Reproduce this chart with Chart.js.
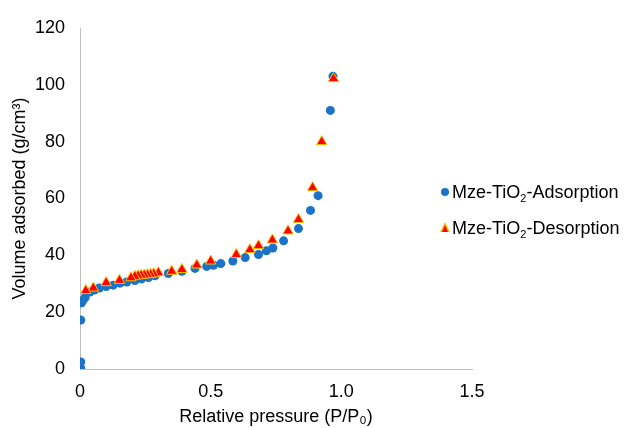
<!DOCTYPE html>
<html>
<head>
<meta charset="utf-8">
<script src="https://cdn.jsdelivr.net/npm/chart.js@4.4.1/dist/chart.umd.min.js"></script>
<style>
  html, body { margin: 0; padding: 0; background: #fff; }
  #wrap { position: relative; width: 627px; height: 428px; }
  #legend { position: absolute; left: 438px; top: 178px; font-family: "Liberation Sans", Arial, sans-serif; font-size: 18px; color: #000; }
  .item { position: relative; height: 36px; line-height: 28px; white-space: nowrap; padding-left: 14px; }
  .item sub { font-size: 11px; vertical-align: -4px; line-height: 0; }
  .dot { position: absolute; left: 3px; top: 10px; width: 8px; height: 8px; border-radius: 50%; background: #1a73c8; }
  .tri { position: absolute; left: 2px; top: 8px; width: 0; height: 0; border-left: 5px solid transparent; border-right: 5px solid transparent; border-bottom: 10px solid #ffc000; }
  .tri::after { content: ""; position: absolute; left: -3.5px; top: 2.5px; border-left: 3.5px solid transparent; border-right: 3.5px solid transparent; border-bottom: 7px solid #ff0000; }
</style>
</head>
<body>
<div id="wrap">
  <canvas id="chart" width="627" height="428"></canvas>
  <div id="legend">
    <div class="item"><span class="dot"></span>Mze-TiO<sub>2</sub>-Adsorption</div>
    <div class="item"><span class="tri"></span>Mze-TiO<sub>2</sub>-Desorption</div>
  </div>
</div>
<script>
"use strict";

// relative pressure P/P0 and volume adsorbed
const adsX = [0.003, 0.003, 0.003, 0.006, 0.012, 0.02, 0.038, 0.055, 0.074, 0.1, 0.127, 0.153, 0.179,
              0.21, 0.236, 0.262, 0.287, 0.338, 0.39, 0.44, 0.485, 0.511, 0.539, 0.585, 0.632, 0.683,
              0.713, 0.738, 0.779, 0.836, 0.882, 0.911, 0.958, 0.968];
const adsY = [0.2, 2.5, 17.2, 23.3, 24.3, 25.2, 27.1, 27.8, 28.5, 29.0, 29.5, 30.2, 30.6,
              31.1, 31.7, 32.2, 32.8, 33.6, 34.4, 35.4, 36.1, 36.5, 37.1, 38.0, 39.2, 40.3,
              41.6, 42.6, 45.1, 49.4, 55.8, 61.0, 91.0, 103.0];

const desX = [0.97, 0.925, 0.89, 0.836, 0.796, 0.736, 0.683, 0.65, 0.598, 0.5, 0.447, 0.39, 0.351,
              0.3, 0.282, 0.27, 0.258, 0.246, 0.234, 0.222, 0.21, 0.195, 0.151, 0.1, 0.051, 0.022];
const desY = [102.2, 80.0, 63.8, 52.6, 48.6, 45.4, 43.4, 42.0, 40.3, 38.0, 36.6, 35.0, 34.4,
              33.9, 33.5, 33.3, 33.2, 33.1, 33.0, 32.8, 32.6, 32.1, 31.2, 30.4, 28.5, 27.6];

const seriesNames = ['Mze-TiO\u2082-Adsorption', 'Mze-TiO\u2082-Desorption'];
const xTickLabels = ['0', '0.5', '1.0', '1.5'];
const xTitle = 'Relative pressure (P/P\u2080)';
const yTitle = 'Volume adsorbed (g/cm\u00B3)';

function toPoints(xs, ys) {
    return xs.map((x, i) => ({x: x, y: ys[i]}));
}

Chart.defaults.font.family = '"Liberation Sans", Arial, sans-serif';
Chart.defaults.font.size = 18;
Chart.defaults.color = '#000';

const ctx = document.getElementById('chart');

new Chart(ctx, {
    type: 'scatter',
    data: {
        datasets: [{
            label: seriesNames[0],
            data: toPoints(adsX, adsY),
            pointStyle: 'circle',
            pointRadius: 4.5,
            backgroundColor: '#1a73c8',
            borderColor: '#1a73c8',
            borderWidth: 0,
            order: 1
        }, {
            label: seriesNames[1],
            data: toPoints(desX, desY),
            pointStyle: 'triangle',
            pointRadius: 6,
            backgroundColor: '#ff0000',
            borderColor: '#ffc000',
            borderWidth: 1,
            order: 0
        }]
    },
    options: {
        responsive: false,
        animation: false,
        layout: { padding: { left: 0, right: 155, top: 28, bottom: 0 } },
        plugins: {
            legend: { display: false },
            tooltip: { enabled: false }
        },
        scales: {
            x: {
                type: 'linear',
                min: 0,
                max: 1.5,
                afterFit: function(scale) { scale.height = 59; },
                grid: { display: false, drawTicks: false },
                border: { color: '#bfbfbf', width: 1 },
                ticks: {
                    stepSize: 0.5,
                    padding: 12,
                    maxRotation: 0,
                    callback: function(value, index) { return xTickLabels[index]; }
                },
                title: { display: true, text: xTitle, padding: { top: 0, bottom: 0 } }
            },
            y: {
                min: 0,
                max: 120,
                afterFit: function(scale) { scale.width = 80; },
                grid: { display: false, drawTicks: false },
                border: { color: '#bfbfbf', width: 1 },
                ticks: { stepSize: 20, padding: 15 },
                title: { display: true, text: yTitle, padding: { top: 9, bottom: 0 } }
            }
        }
    }
});
</script>
</body>
</html>
